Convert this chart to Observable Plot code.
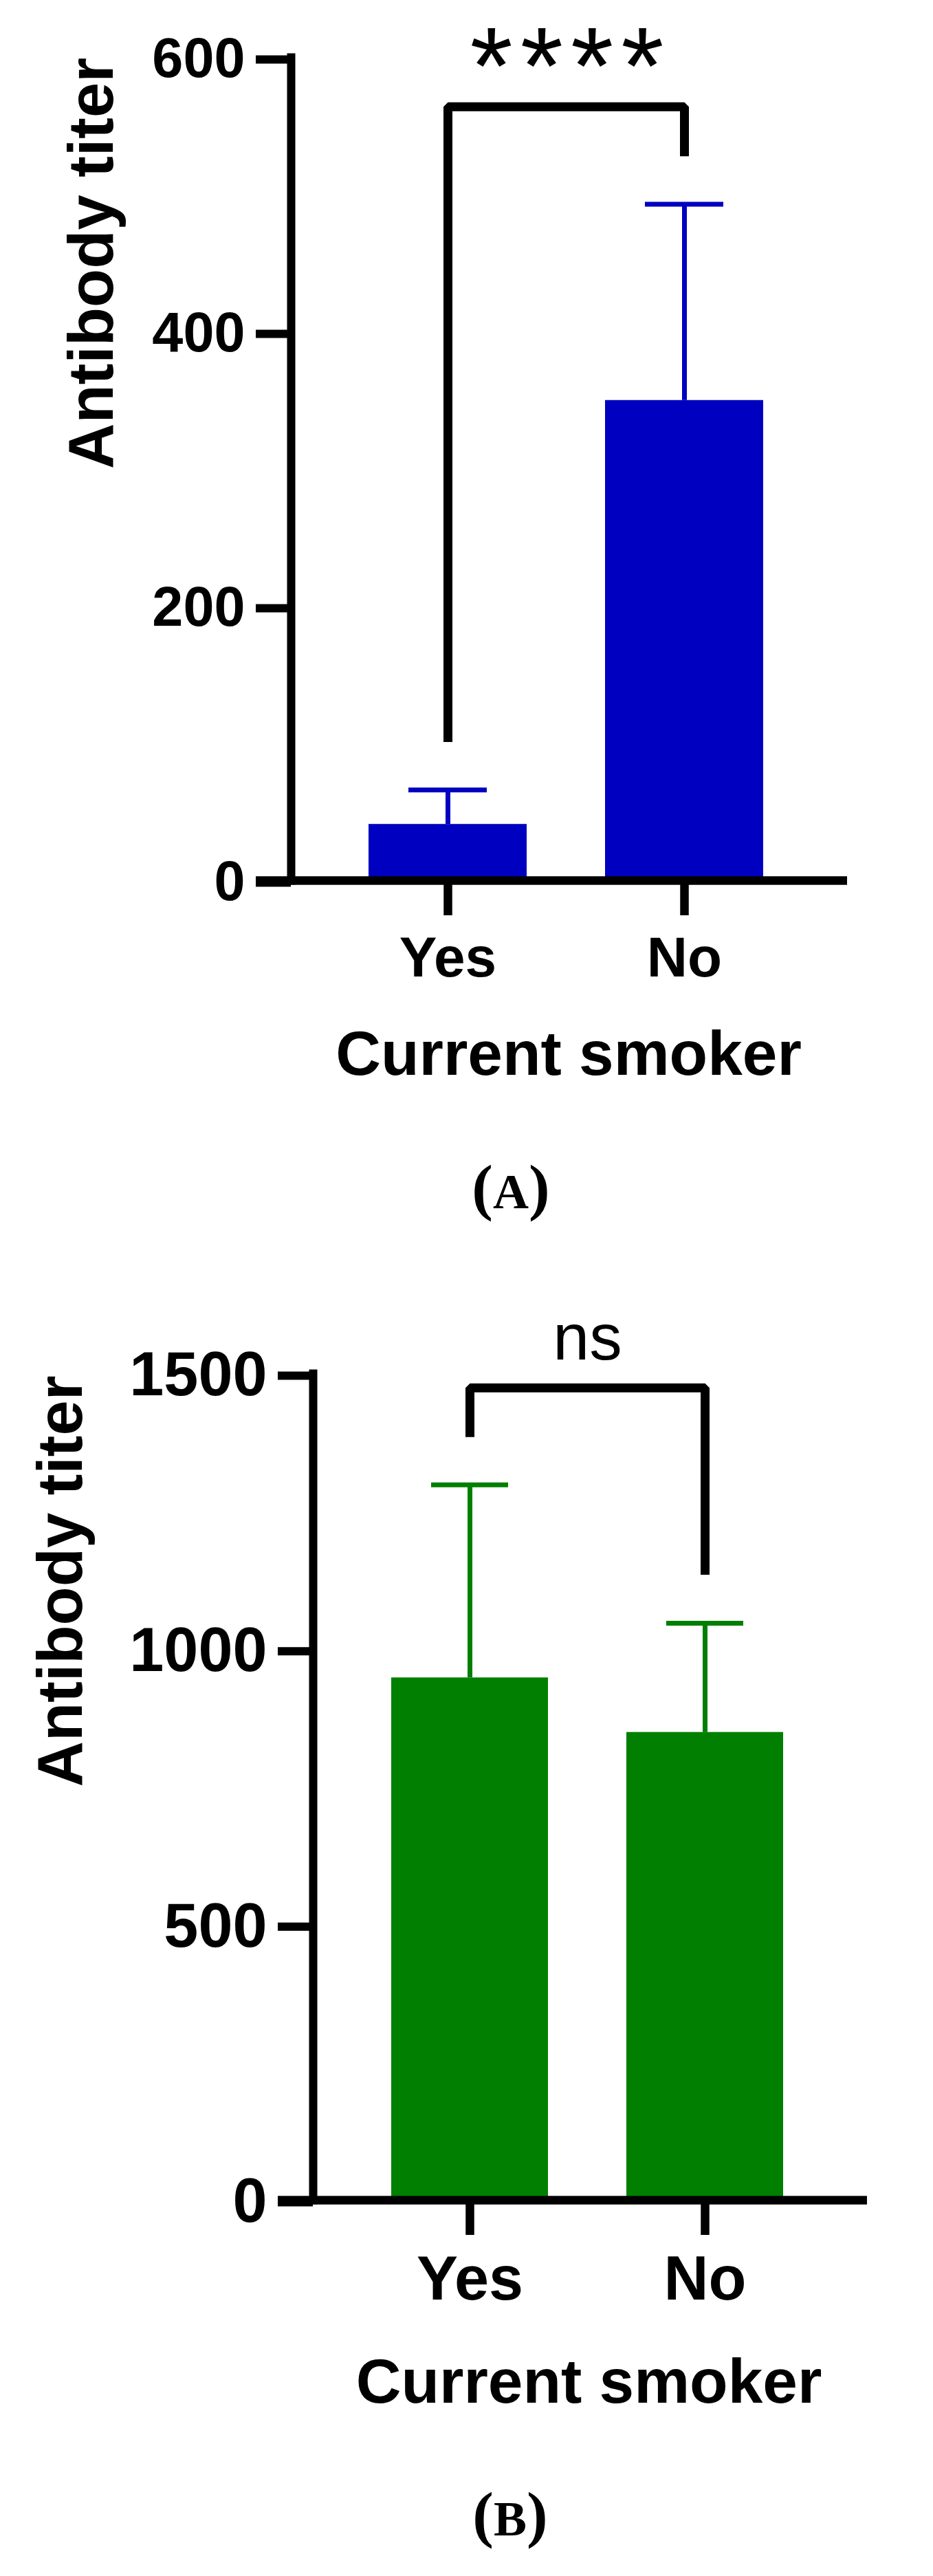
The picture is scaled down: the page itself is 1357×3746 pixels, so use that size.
<!DOCTYPE html>
<html>
<head>
<meta charset="utf-8">
<script src="https://cdn.jsdelivr.net/npm/d3@7"></script>
<script src="https://cdn.jsdelivr.net/npm/@observablehq/plot@0.6"></script>
<style>
  html, body { margin: 0; padding: 0; background: #fff; }
  #page { position: relative; width: 1357px; height: 3746px; background: #fff; overflow: hidden; }
  .panel { position: absolute; left: 0; }
  .caption { position: absolute; width: 240px; text-align: center; font-family: "Liberation Serif", "Times New Roman", serif; font-weight: bold; font-size: 92px; line-height: 1; color: #000; white-space: nowrap; }
  .caption .letter { font-size: 72px; }
</style>
</head>
<body>
<div id="page">
  <div id="panelA" class="panel" style="top:0px"></div>
  <div class="caption" style="left:623px; top:1680px">(<span class="letter">A</span>)</div>
  <div id="panelB" class="panel" style="top:1850px"></div>
  <div class="caption" style="left:622px; top:3610px">(<span class="letter">B</span>)</div>
</div>
<script>
// ---------- data ----------
const groups = ["Yes", "No"];
const xAxisTitle = "Current smoker";
const yAxisTitle = "Antibody titer";

// Panel A
const meanA = [41, 350];
const sdA = [25, 143];
const ticksA = [0, 200, 400, 600];
const bracketA = [101, 564, 564, 528];   // left leg bottom, top, top, right leg bottom
const sigA = "****";
const sigYA = 566;

// Panel B
const meanB = [948, 849];
const sdB = [350, 198];
const ticksB = [0, 500, 1000, 1500];
const bracketB = [1385, 1474, 1474, 1135];
const sigB = "ns";
const sigYB = 1525;

const blue = "#0000C0";
const green = "#007F00";
const sansFont = "'Liberation Sans', Arial, Helvetica, sans-serif";

function panel(cfg) {
  const rows = groups.map((g, i) => ({group: g, mean: cfg.mean[i], sd: cfg.sd[i]}));
  const bracketPts = cfg.bracket.map((v, i) => ({g: i < 2 ? groups[0] : groups[1], v}));
  const svg = Plot.plot({
    width: 1357,
    height: cfg.height,
    marginTop: cfg.marginTop,
    marginBottom: cfg.marginBottom,
    marginLeft: cfg.marginLeft,
    marginRight: cfg.marginRight,
    style: {fontFamily: sansFont, background: "#fff", overflow: "visible", color: "#000"},
    x: {type: "band", domain: groups, range: cfg.xRange, paddingInner: 0.332, paddingOuter: 0, align: 0.5},
    y: {domain: cfg.yDomain},
    marks: [
      Plot.barY(rows, {x: "group", y: "mean", fill: cfg.color}),
      Plot.ruleX(rows, {x: "group", y1: "mean", y2: d => d.mean + d.sd, stroke: cfg.color, strokeWidth: 7}),
      Plot.tickY(rows, {x: "group", y: d => d.mean + d.sd, stroke: cfg.color, strokeWidth: 7, insetLeft: 58, insetRight: 58}),
      Plot.frame({anchor: "left", stroke: "#000", strokeWidth: 12, strokeLinecap: "square"}),
      Plot.ruleY([0], {stroke: "#000", strokeWidth: 12.5, insetLeft: -51}),
      Plot.axisY({ticks: cfg.ticks, tickFormat: d => `${d}`, tickSize: 51, tickPadding: 16, strokeWidth: 12,
                  fontSize: cfg.tickFont, fontWeight: "bold", label: null, dy: 3}),
      Plot.axisX({tickSize: 51, tickPadding: 30, strokeWidth: 12.5, fontSize: cfg.xTickFont, fontWeight: "bold", label: null}),
      Plot.line(bracketPts, {x: "g", y: "v", stroke: "#000", strokeWidth: 13, strokeLinejoin: "miter", strokeLinecap: "butt"}),
      Plot.text([cfg.sig], {y: () => cfg.sigY, text: d => d, lineAnchor: "bottom", dx: cfg.sigDx,
                            fontSize: cfg.sigFont, fontWeight: "normal", className: "sig"}),
      Plot.text([yAxisTitle], {frameAnchor: "left", rotate: -90, lineAnchor: "bottom", dx: cfg.yTitleDx,
                               fontSize: 92, fontWeight: "bold"}),
      Plot.text([xAxisTitle], {frameAnchor: "bottom", lineAnchor: "bottom", dy: cfg.xTitleDy, dx: cfg.xTitleDx,
                               fontSize: 91, fontWeight: "bold"})
    ]
  });
  if (cfg.sigSpacing) {
    svg.querySelectorAll("g.sig text").forEach(t => t.setAttribute("letter-spacing", cfg.sigSpacing));
  }
  return svg;
}

document.getElementById("panelA").append(panel({
  height: 1620, marginTop: 83, marginBottom: 340, marginLeft: 423, marginRight: 125,
  xRange: [536, 1110.5], yDomain: [0, 600], ticks: ticksA,
  mean: meanA, sd: sdA, bracket: bracketA, color: blue,
  tickFont: 81, xTickFont: 82,
  sig: sigA, sigY: sigYA, sigDx: 2, sigFont: 160, sigSpacing: 11,
  yTitleDx: -260, xTitleDy: 282, xTitleDx: -1
}));

document.getElementById("panelB").append(panel({
  height: 1700, marginTop: 147, marginBottom: 351, marginLeft: 455, marginRight: 96,
  xRange: [568, 1140], yDomain: [0, 1500], ticks: ticksB,
  mean: meanB, sd: sdB, bracket: bracketB, color: green,
  tickFont: 90, xTickFont: 90,
  sig: sigB, sigY: sigYB, sigDx: -4, sigFont: 95,
  yTitleDx: -337, xTitleDy: 294, xTitleDx: -2
}));
</script>
</body>
</html>
